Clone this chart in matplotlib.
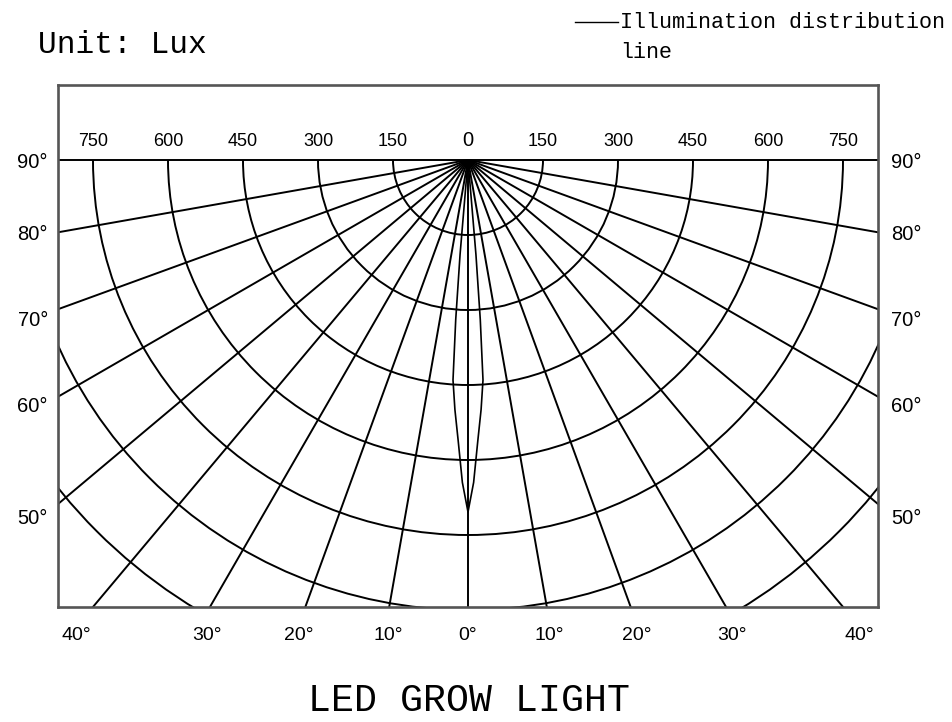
import numpy as np
import matplotlib
matplotlib.use("Agg")
import matplotlib.pyplot as plt
from matplotlib.patches import Arc
from matplotlib.lines import Line2D

# grid: illuminance rings (lux) and rays (degrees from nadir)
ring_lux = [150, 300, 450, 600, 750, 900, 1050]
ray_angles = [0, 10, 20, 30, 40, 50, 60, 70, 80]

# tick labels
top_labels = ["750", "600", "450", "300", "150", "0", "150", "300", "450", "600", "750"]
top_values = [-750, -600, -450, -300, -150, 0, 150, 300, 450, 600, 750]
side_labels = ["90°", "80°", "70°", "60°", "50°"]
bottom_labels = ["40°", "30°", "20°", "10°", "0°", "10°", "20°", "30°", "40°"]

# illumination distribution (one half, mirrored about 0 deg)
dist_angle = [0, 1.0, 2.0, 3.0, 3.9, 4.4, 4.8, 5.2]
dist_lux = [704, 645, 562, 500, 441, 320, 190, 0]

# label positions (lux units, 2 lux per pixel)
side_label_y = [-4, -150, -320, -494, -716]
bottom_label_x = [-783, -522, -338, -160, 0, 162, 338, 528, 783]

W, H = 952, 722
fig = plt.figure(figsize=(W / 100, H / 100), dpi=100)
ax = fig.add_axes([58 / W, (H - 607) / H, 820 / W, 522 / H])
ax.set_xlim(-820, 820)
ax.set_ylim(-894, 150)
ax.set_xticks([])
ax.set_yticks([])
for sp in ax.spines.values():
    sp.set_linewidth(1.9)
    sp.set_color("#555555")

lw = 1.4
ax.axhline(0, color="black", lw=lw)

for r in ring_lux:
    ax.add_patch(Arc((0, 0), 2 * r, 2 * r, theta1=180, theta2=360,
                     color="black", lw=lw))

reach = 3000
for a in ray_angles:
    for s in ([1] if a == 0 else [-1, 1]):
        t = np.deg2rad(s * a)
        ax.plot([0, reach * np.sin(t)], [0, -reach * np.cos(t)],
                color="black", lw=lw, solid_capstyle="butt")

# distribution curve
ang = np.deg2rad(np.concatenate([-np.array(dist_angle[::-1]), np.array(dist_angle[1:])]))
lux = np.concatenate([np.array(dist_lux[::-1]), np.array(dist_lux[1:])])
ax.plot(lux * np.sin(ang), -lux * np.cos(ang), color="black", lw=1.2)

num_font = "Liberation Sans"
for v, lab in zip(top_values, top_labels):
    ax.text(v, 20, lab, ha="center", va="bottom", fontsize=14.5 if lab == "0" else 13,
            family=num_font, clip_on=False)

for y, lab in zip(side_label_y, side_labels):
    ax.text(-840, y, lab, ha="right", va="center", fontsize=14.5, family=num_font, clip_on=False)
    ax.text(846, y, lab, ha="left", va="center", fontsize=14.5, family=num_font, clip_on=False)

for x, lab in zip(bottom_label_x, bottom_labels):
    ax.text(x, -952, lab, ha="center", va="center", fontsize=14, family=num_font, clip_on=False)

serif = ["Liberation Mono", "Noto Sans CJK SC", "DejaVu Sans"]
fig.text(38 / W, 1 - 45 / H, "Unit: Lux", ha="left", va="center", fontsize=22.5, family=serif)
fig.add_artist(Line2D([575 / W, 618 / W], [1 - 22 / H, 1 - 22 / H],
                      transform=fig.transFigure, color="black", lw=1.0))
fig.text(620 / W, 1 - 22 / H, "Illumination distribution", ha="left", va="center",
         fontsize=15.6, family=serif)
fig.text(620 / W, 1 - 52 / H, "line", ha="left", va="center", fontsize=15.6, family=serif)
fig.text(469 / W, 1 - 701 / H, "LED GROW LIGHT", ha="center", va="center",
         fontsize=27.5, family=serif)

fig.savefig("out.png", dpi=100)
